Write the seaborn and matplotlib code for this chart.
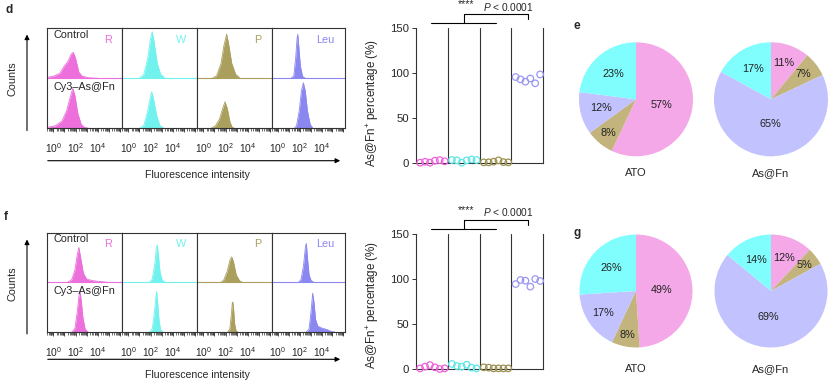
import numpy as np
import pandas as pd
import matplotlib
matplotlib.use("Agg")
import matplotlib.pyplot as plt
import matplotlib.ticker as mticker
from matplotlib.patches import FancyArrowPatch
import seaborn as sns

# channels / groups
channels = ["R", "W", "P", "Leu"]
pie_order = ["R", "P", "Leu", "W"]

# flow histograms: (log10 intensity, height as fraction of row)
d_R_ctrl = [(-0.5, 0.02), (0.0, 0.04), (0.6, 0.1), (1.0, 0.25), (1.3, 0.33), (1.6, 0.48),
            (1.8, 0.52), (2.0, 0.4), (2.3, 0.12), (2.6, 0.04), (3.2, 0.01), (4.0, 0.0)]
d_R_cy3 = [(-0.5, 0.02), (0.2, 0.05), (0.8, 0.15), (1.2, 0.35), (1.5, 0.6), (1.75, 0.8),
           (1.95, 0.65), (2.2, 0.3), (2.5, 0.08), (2.8, 0.02), (3.2, 0.0)]
d_W_ctrl = [(1.0, 0.0), (1.4, 0.08), (1.75, 0.4), (2.0, 0.8), (2.15, 0.93), (2.3, 0.75),
            (2.6, 0.3), (2.9, 0.08), (3.3, 0.0)]
d_W_cy3 = [(1.0, 0.0), (1.4, 0.06), (1.75, 0.35), (2.0, 0.65), (2.1, 0.73), (2.25, 0.6),
           (2.55, 0.25), (2.85, 0.05), (3.2, 0.0)]
d_P_ctrl = [(0.8, 0.0), (1.2, 0.05), (1.6, 0.3), (1.85, 0.65), (2.1, 0.88), (2.3, 0.65),
            (2.55, 0.3), (2.9, 0.08), (3.3, 0.0)]
d_P_cy3 = [(0.7, 0.0), (1.1, 0.05), (1.45, 0.18), (1.75, 0.4), (1.95, 0.53), (2.15, 0.4),
           (2.4, 0.12), (2.6, 0.02), (2.8, 0.0)]
d_Leu_ctrl = [(1.2, 0.0), (1.45, 0.05), (1.62, 0.4), (1.75, 0.8), (1.82, 0.88), (1.92, 0.6),
              (2.05, 0.25), (2.25, 0.04), (2.5, 0.0)]
d_Leu_cy3 = [(1.5, 0.0), (1.7, 0.05), (1.95, 0.35), (2.15, 0.75), (2.33, 0.91), (2.5, 0.75),
             (2.7, 0.35), (2.95, 0.08), (3.2, 0.0)]

f_R_ctrl = [(1.3, 0.0), (1.65, 0.05), (1.95, 0.25), (2.15, 0.55), (2.3, 0.7), (2.45, 0.5),
            (2.7, 0.18), (3.0, 0.06), (3.6, 0.03), (4.4, 0.01), (4.8, 0.0)]
f_R_cy3 = [(1.7, 0.0), (1.95, 0.08), (2.15, 0.4), (2.3, 0.72), (2.4, 0.82), (2.5, 0.65),
           (2.65, 0.3), (2.85, 0.06), (3.1, 0.0)]
f_W_ctrl = [(1.9, 0.0), (2.15, 0.06), (2.4, 0.4), (2.52, 0.7), (2.6, 0.75), (2.7, 0.55),
            (2.85, 0.2), (3.05, 0.04), (3.3, 0.0)]
f_W_cy3 = [(1.9, 0.0), (2.15, 0.06), (2.35, 0.4), (2.48, 0.72), (2.55, 0.81), (2.63, 0.6),
           (2.75, 0.25), (2.9, 0.04), (3.1, 0.0)]
f_P_ctrl = [(1.6, 0.0), (1.85, 0.05), (2.15, 0.22), (2.4, 0.45), (2.55, 0.51), (2.7, 0.42),
            (2.95, 0.15), (3.25, 0.03), (3.5, 0.0)]
f_P_cy3 = [(2.2, 0.0), (2.38, 0.06), (2.52, 0.35), (2.6, 0.58), (2.65, 0.6), (2.72, 0.45),
           (2.82, 0.15), (2.95, 0.02), (3.1, 0.0)]
f_Leu_ctrl = [(1.9, 0.0), (2.12, 0.06), (2.35, 0.35), (2.52, 0.72), (2.6, 0.78), (2.7, 0.5),
              (2.85, 0.15), (3.05, 0.03), (3.3, 0.0)]
f_Leu_cy3 = [(2.6, 0.0), (2.85, 0.06), (3.05, 0.45), (3.18, 0.78), (3.3, 0.6), (3.45, 0.25),
             (3.65, 0.12), (4.0, 0.08), (4.5, 0.05), (4.9, 0.01), (5.2, 0.0)]

# As@Fn+ percentage, six replicates per group
d_R_pct = [0, 1.1, 0, 2.2, 2.9, 1.5]
d_W_pct = [3.0, 2.6, 0, 2.6, 3.7, 3.0]
d_P_pct = [0.4, 0.4, 1.1, 2.6, 0.7, 0.4]
d_Leu_pct = [95.6, 93.0, 90.4, 94.0, 88.6, 98.5]
f_R_pct = [0.7, 2.6, 4.4, 1.9, 0, 0.7]
f_W_pct = [5.6, 3.3, 2.6, 4.8, 1.5, 0.7]
f_P_pct = [1.9, 1.5, 0.7, 0.7, 0.7, 0.7]
f_Leu_pct = [94.4, 98.9, 98.1, 91.5, 100.0, 97.8]

# pie shares (order R, P, Leu, W)
d_ato = [57, 8, 12, 23]
d_asfn = [11, 7, 65, 17]
g_ato = [49, 8, 17, 26]
g_asfn = [12, 5, 69, 14]

hist_colors = {"R": "#ec6fdc", "W": "#72f2ee", "P": "#ab9f5e", "Leu": "#8b87f0"}
strip_colors = {"R": "#f060dc", "W": "#5fe6e6", "P": "#9c8f4f", "Leu": "#9a97f3"}
pie_colors = {"R": "#f5a8e8", "P": "#c2b47c", "Leu": "#c2c2fe", "W": "#80fefe"}

sns.set_theme(style="white")
plt.rcParams["font.family"] = ["Liberation Sans", "DejaVu Sans"]
plt.rcParams["mathtext.fontset"] = "custom"
plt.rcParams["mathtext.rm"] = "Liberation Sans"
plt.rcParams["mathtext.it"] = "Liberation Sans:italic"
plt.rcParams["mathtext.bf"] = "Liberation Sans:bold"

W_PX, H_PX = 831, 383
fig = plt.figure(figsize=(W_PX / 100, H_PX / 100), dpi=100)
LINE = "#333333"


def fx(px):
    return px / W_PX


def fy(py):
    return 1 - py / H_PX


def rect(x0, y0, x1, y1):
    return [fx(x0), fy(y1), (x1 - x0) / W_PX, (y1 - y0) / H_PX]


def arrow(p0, p1):
    fig.add_artist(FancyArrowPatch((fx(p0[0]), fy(p0[1])), (fx(p1[0]), fy(p1[1])),
                                   transform=fig.transFigure, arrowstyle="-|>",
                                   mutation_scale=7, lw=0.8, color="black"))


def tick_fmt(v, pos):
    k = int(round(np.log10(v)))
    return f"$10^{{{k}}}$" if k in (0, 2, 4) else ""


def hist_panel(top, bottom, ctrl, cy3, arrow_y, label_y, counts_y, v_top, v_bot):
    edges = [47, 122, 197, 272, 345]
    for i, ch in enumerate(channels):
        ax = fig.add_axes(rect(edges[i], top, edges[i + 1], bottom))
        ax.set_xscale("log")
        ax.set_xlim(10 ** -0.55, 10 ** 6.15)
        ax.set_ylim(0, 2)
        c = hist_colors[ch]
        for pts, base in ((ctrl[i], 1.0), (cy3[i], 0.0)):
            lg = np.array([p[0] for p in pts])
            h = np.array([p[1] for p in pts])
            ax.fill_between(10 ** lg, base, base + h, color=c, lw=0)
            ax.plot(10 ** lg, base + h, color=c, lw=0.6)
        ax.axhline(1.0, color=c, lw=0.8)
        ax.set_yticks([])
        ax.xaxis.set_major_locator(mticker.FixedLocator([10.0 ** k for k in range(0, 7)]))
        ax.xaxis.set_major_formatter(mticker.FuncFormatter(tick_fmt))
        ax.xaxis.set_minor_locator(mticker.LogLocator(base=10, subs=np.arange(2, 10), numticks=30))
        ax.xaxis.set_minor_formatter(mticker.NullFormatter())
        ax.tick_params(axis="x", which="major", direction="out", length=3, width=0.6,
                       pad=6.5, labelsize=7.4, color=LINE, bottom=True)
        ax.tick_params(axis="x", which="minor", direction="out", length=2, width=0.5,
                       color=LINE, bottom=True)
        for s in ax.spines.values():
            s.set_color(LINE)
            s.set_linewidth(0.8)
        ax.text(0.86, 1.76, ch, transform=ax.get_yaxis_transform(),
                ha="right", va="center", fontsize=7.8, color=c)
        if i == 0:
            ax.text(0.08, 1.86, "Control", transform=ax.get_yaxis_transform(),
                    ha="left", va="center", fontsize=7.8)
            ax.text(0.08, 0.82, "Cy3\u2013As@Fn", transform=ax.get_yaxis_transform(),
                    ha="left", va="center", fontsize=7.8)
    arrow((45, arrow_y), (343, arrow_y))
    arrow((27, v_bot), (27, v_top))
    fig.text(fx(197), fy(label_y), "Fluorescence intensity", ha="center", va="center", fontsize=7.6)
    fig.text(fx(12.5), fy(counts_y), "Counts", ha="center", va="center", rotation=90, fontsize=7.8)


def strip_panel(top, bottom, vals, ylab_y):
    ax = fig.add_axes(rect(416, top, 543.3, bottom))
    offsets = np.linspace(-0.37, 0.40, 6)
    rows = []
    for gi, (g, v) in enumerate(zip(channels, vals)):
        for r, val in enumerate(v):
            rows.append({"group": g, "pos": gi + offsets[r], "value": val})
    df = pd.DataFrame(rows)
    sns.scatterplot(data=df, x="pos", y="value", hue="group", palette=strip_colors,
                    s=22, linewidth=0.9, legend=False, clip_on=False, zorder=5, ax=ax)
    for coll in ax.collections:
        fc = coll.get_facecolors()
        coll.set_edgecolors(fc)
        coll.set_facecolors("none")
    ax.set_xlim(-0.5, 3.5)
    ax.set_ylim(0, 150)
    ax.set_xticks([])
    ax.set_yticks([0, 50, 100, 150])
    ax.set_xlabel("")
    ax.set_ylabel("")
    ax.tick_params(axis="y", direction="out", length=3, width=0.7, pad=2, labelsize=8.2,
                   color=LINE, left=True)
    ax.spines["top"].set_visible(False)
    for k in ("left", "right", "bottom"):
        ax.spines[k].set_color(LINE)
        ax.spines[k].set_linewidth(0.8)
    for xv in (0.5, 1.5, 2.5):
        ax.axvline(xv, color=LINE, lw=0.8)
    ax.plot([-0.03, 2.01], [155.6, 155.6], color="black", lw=0.8, clip_on=False)
    ax.plot([1.02, 1.02, 3.03, 3.03], [155.6, 165.6, 165.6, 160], color="black", lw=0.8,
            clip_on=False)
    ax.text(1.07, 177, "****", ha="center", va="center", fontsize=7.5)
    ax.text(1.6, 174, "$P$ < 0.0001", ha="left", va="center", fontsize=7.3)
    fig.text(fx(373), fy(ylab_y), "As@Fn$^{+}$ percentage (%)", rotation=90,
             ha="center", va="center", fontsize=8.4)


def pie_panel(cx, cy, r, vals, radii, title, title_y):
    ax = fig.add_axes(rect(cx - r, cy - r, cx + r, cy + r))
    wedges, texts, autos = ax.pie(vals, colors=[pie_colors[k] for k in pie_order],
                                  startangle=90, counterclock=False, autopct="%.0f%%",
                                  pctdistance=0.6, textprops=dict(fontsize=7.8, color="#222222"),
                                  wedgeprops=dict(linewidth=0))
    for t, w, rr in zip(autos, wedges, radii):
        ang = np.deg2rad((w.theta1 + w.theta2) / 2)
        t.set_position((rr * np.cos(ang), rr * np.sin(ang)))
    ax.set_xlim(-1, 1)
    ax.set_ylim(-1, 1)
    fig.text(fx(cx), fy(title_y), title, ha="center", va="center", fontsize=8)


hist_panel(28.3, 128.3,
           [d_R_ctrl, d_W_ctrl, d_P_ctrl, d_Leu_ctrl],
           [d_R_cy3, d_W_cy3, d_P_cy3, d_Leu_cy3],
           arrow_y=160.7, label_y=175, counts_y=78.3, v_top=31.7, v_bot=133.3)
hist_panel(232.5, 332,
           [f_R_ctrl, f_W_ctrl, f_P_ctrl, f_Leu_ctrl],
           [f_R_cy3, f_W_cy3, f_P_cy3, f_Leu_cy3],
           arrow_y=359.3, label_y=375, counts_y=283.3, v_top=236.7, v_bot=336.7)

strip_panel(28.3, 162.7, [d_R_pct, d_W_pct, d_P_pct, d_Leu_pct], ylab_y=102.7)
strip_panel(234, 369, [f_R_pct, f_W_pct, f_P_pct, f_Leu_pct], ylab_y=305)

pie_panel(636, 99.3, 57, d_ato, [0.46, 0.76, 0.64, 0.59], "ATO", 172.7)
pie_panel(771, 99.3, 57, d_asfn, [0.68, 0.72, 0.44, 0.61], "As@Fn", 172.7)
pie_panel(636, 291, 56.5, g_ato, [0.45, 0.79, 0.70, 0.59], "ATO", 369)
pie_panel(771, 291, 56.5, g_asfn, [0.62, 0.74, 0.46, 0.61], "As@Fn", 369)

for letter, px, py in (("d", 5, 10), ("e", 574, 26), ("f", 4, 216.7), ("g", 574, 232.7)):
    fig.text(fx(px), fy(py), letter, ha="left", va="center", fontsize=8.5, fontweight="bold")

fig.savefig("out.png", dpi=100)
